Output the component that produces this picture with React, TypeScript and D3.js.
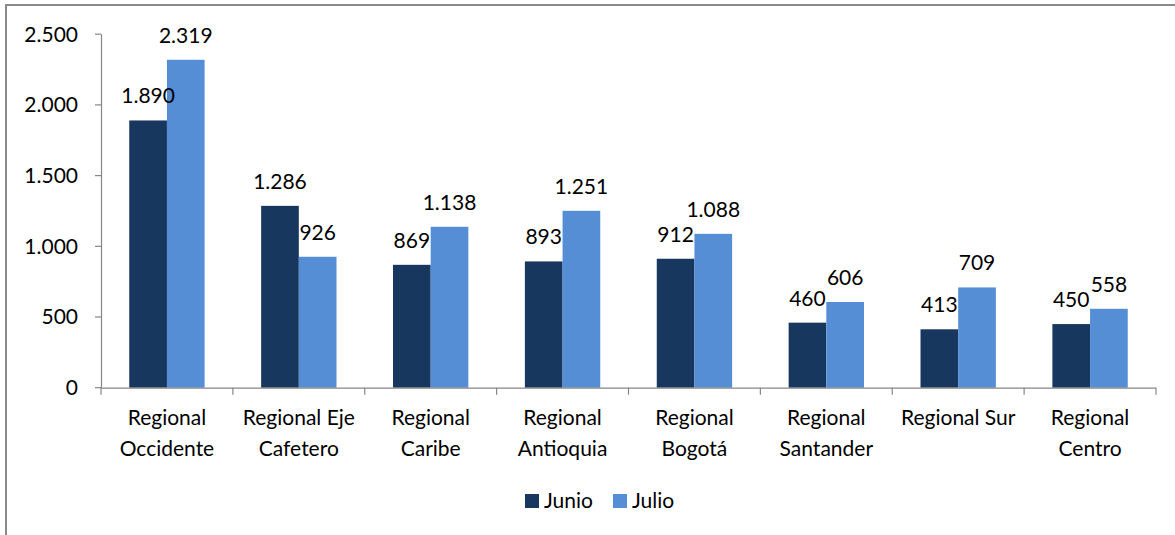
import React, { useEffect, useRef } from "react";
import * as d3 from "d3";

const categories = [
  "Regional Occidente",
  "Regional Eje Cafetero",
  "Regional Caribe",
  "Regional Antioquia",
  "Regional Bogotá",
  "Regional Santander",
  "Regional Sur",
  "Regional Centro",
];
const junio = [1890, 1286, 869, 893, 912, 460, 413, 450];
const julio = [2319, 926, 1138, 1251, 1088, 606, 709, 558];
const seriesNames = ["Junio", "Julio"];
const seriesColors = ["#17375E", "#558ED5"];
const yTicks = [0, 500, 1000, 1500, 2000, 2500];

const W = 1175;
const H = 535;
const FONT = "Lato, 'Open Sans', sans-serif";
const FS = 21;

const fmt = (v: number) => d3.format(",")(v).replace(/,/g, ".");

export default function App() {
  const ref = useRef<SVGSVGElement>(null);

  useEffect(() => {
    const svg = d3.select(ref.current);
    svg.selectAll("*").remove();

    const left = 101, right = 1156, top = 34.2, bottom = 387.7;
    const x0 = d3.scaleBand<string>().domain(categories).range([left, right]).paddingInner(0).paddingOuter(0);
    const y = d3.scaleLinear().domain([0, 2500]).range([bottom, top]);
    const groupInner = 0.5714;
    const x1 = d3
      .scaleBand<string>()
      .domain(seriesNames)
      .range([0, x0.bandwidth() * groupInner]);
    const offset = (x0.bandwidth() * (1 - groupInner)) / 2;

    // frame
    svg.append("path")
      .attr("d", `M6,${H} L6,5 L${W},5`)
      .attr("fill", "none")
      .attr("stroke", "#8a8a8a")
      .attr("stroke-width", 2);

    const axisColor = "#868686";

    // y axis
    svg.append("line").attr("x1", left + 0.5).attr("x2", left + 0.5).attr("y1", top).attr("y2", bottom)
      .attr("stroke", axisColor).attr("stroke-width", 1.2);
    yTicks.forEach((t) => {
      svg.append("line").attr("x1", left - 6).attr("x2", left).attr("y1", y(t)).attr("y2", y(t))
        .attr("stroke", axisColor).attr("stroke-width", 1.2);
      svg.append("text").attr("x", 78).attr("y", y(t)).attr("dy", "0.35em")
        .attr("text-anchor", "end").attr("font-family", FONT).attr("font-size", FS)
        .attr("fill", "#000").text(fmt(t));
    });

    // bars
    const series = [junio, julio];
    const labels: { x: number; y: number; t: string }[] = [];
    categories.forEach((c, i) => {
      series.forEach((vals, s) => {
        const bx = (x0(c) as number) + offset + (x1(seriesNames[s]) as number);
        const bw = x1.bandwidth();
        svg.append("rect")
          .attr("x", bx).attr("y", y(vals[i]))
          .attr("width", bw).attr("height", bottom - y(vals[i]))
          .attr("fill", seriesColors[s]);
        labels.push({ x: bx + bw / 2, y: y(vals[i]) - 17, t: fmt(vals[i]) });
      });
    });
    labels.forEach((l) => {
      svg.append("text")
        .attr("x", l.x).attr("y", l.y)
        .attr("text-anchor", "middle").attr("font-family", FONT).attr("font-size", FS)
        .attr("fill", "#000").text(l.t);
    });

    // x axis
    svg.append("line").attr("x1", left).attr("x2", right).attr("y1", bottom + 0.5).attr("y2", bottom + 0.5)
      .attr("stroke", axisColor).attr("stroke-width", 1.2);
    for (let i = 0; i <= categories.length; i++) {
      const tx = left + i * x0.bandwidth();
      svg.append("line").attr("x1", tx).attr("x2", tx).attr("y1", bottom).attr("y2", bottom + 7)
        .attr("stroke", axisColor).attr("stroke-width", 1.2);
    }

    // category labels with wrapping
    const canvas = document.createElement("canvas");
    const ctx = canvas.getContext("2d")!;
    ctx.font = `${FS}px Lato`;
    const maxW = x0.bandwidth() - 8;
    categories.forEach((c) => {
      const words = c.split(" ");
      const lines: string[] = [];
      let cur = "";
      words.forEach((w) => {
        const test = cur ? cur + " " + w : w;
        if (ctx.measureText(test).width > maxW && cur) {
          lines.push(cur);
          cur = w;
        } else cur = test;
      });
      if (cur) lines.push(cur);
      const cx = (x0(c) as number) + x0.bandwidth() / 2;
      const t = svg.append("text").attr("text-anchor", "middle").attr("font-family", FONT)
        .attr("font-size", FS).attr("fill", "#000");
      lines.forEach((ln, k) => {
        t.append("tspan").attr("x", cx).attr("y", 425 + k * 31).text(ln);
      });
    });

    // legend
    const legendItems = [{ x: 525 }, { x: 613 }];
    seriesNames.forEach((n, s) => {
      svg.append("rect").attr("x", legendItems[s].x).attr("y", 494).attr("width", 14).attr("height", 14)
        .attr("fill", seriesColors[s]);
      svg.append("text").attr("x", legendItems[s].x + 19).attr("y", 508)
        .attr("font-family", FONT).attr("font-size", FS).attr("fill", "#000").text(n);
    });
  }, []);

  return (
    <svg
      ref={ref}
      width={W}
      height={H}
      style={{ position: "absolute", left: 0, top: 0, background: "#fff" }}
    />
  );
}
